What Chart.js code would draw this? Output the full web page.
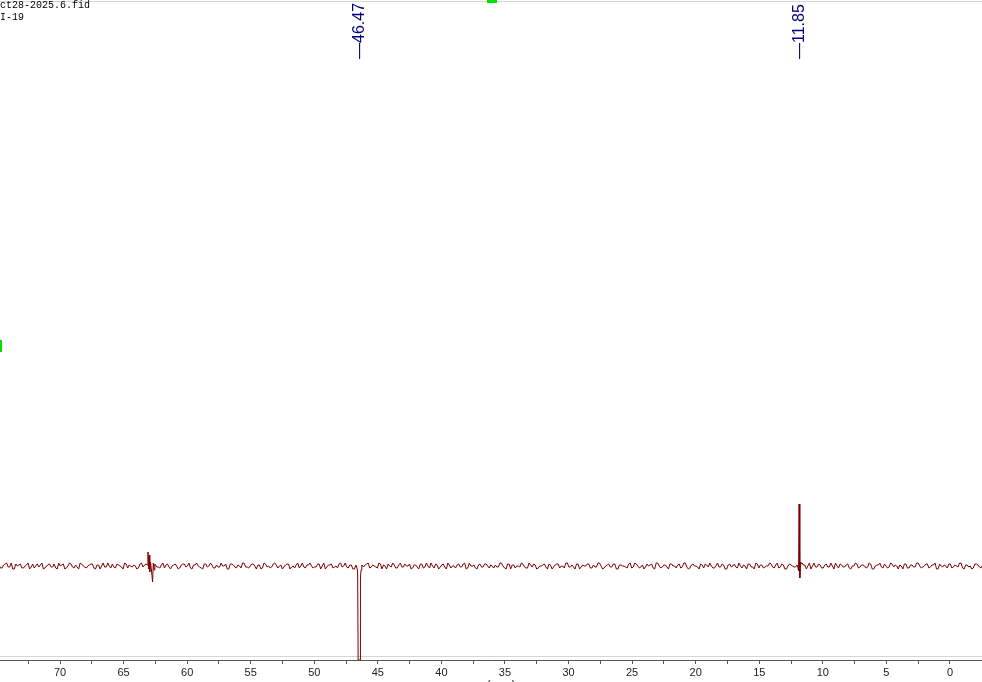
<!DOCTYPE html>
<html>
<head>
<meta charset="utf-8">
<script src="https://cdn.jsdelivr.net/npm/chart.js@4/dist/chart.umd.min.js"></script>
<style>
html, body { margin: 0; padding: 0; background: #fff; overflow: hidden; }
</style>
</head>
<body>
<canvas id="spec" width="982" height="682"></canvas>
<script>
// header lines of the spectrum window
const fileName = 'Oct28-2025.6.fid';
const sampleName = 'I-19';

// chemical shift axis (ppm), reversed like NMR
const shiftMin = -2.52;
const shiftMax = 74.72;
const tickValues = [0, 2.5, 5, 7.5, 10, 12.5, 15, 17.5, 20, 22.5, 25, 27.5, 30, 32.5, 35, 37.5,
  40, 42.5, 45, 47.5, 50, 52.5, 55, 57.5, 60, 62.5, 65, 67.5, 70, 72.5];

// picked peaks
const peakLabels = [46.47, 11.85];

// baseline noise, one value every noiseStep ppm from noiseStart
// (second array sits half a step further along)
const noiseStart = 74.8;
const noiseStep = 0.241;
const baselineNoise = [
  1,-2,2,-1,3,-3,0,2,-2,1,-3,2,0,-1,3,-2,1,-1,2,-3,
  0,2,-2,3,-1,1,-3,2,-1,0,2,-2,1,-3,3,-1,0,2,-2,1,
  -1,3,-2,0,1,-3,2,-1,2,-2,0,3,-1,1,-2,2,-3,1,0,-2,
  2,-1,3,-3,1,0,-2,2,-1,3,-2,1,-1,0,2,-3,2,-1,1,-2,
  3,-1,0,2,-3,1,-2,2,0,-1,3,-2,1,-1,2,-3,0,1,-2,3,
  -2,1,0,-1,2,-3,3,-1,1,-2,0,2,-1,3,-2,1,-3,2,0,-1,
  2,-2,1,-1,3,-3,0,2,-1,1,-2,3,-1,0,2,-2,1,-3,2,-1,
  0,3,-2,1,-1,2,-3,1,0,-2,2,-1,3,-2,0,1,-3,2,-1,2,
  -2,0,1,-1,3,-2,2,-3,1,0,-1,2,-2,3,-1,1,-2,0,2,-3,
  1,-1,2,-2,0,3,-1,1,-3,2,-1,0,2,-2,1,-1,3,-3,0,2,
  -1,2,-3,1,0,-2,3,-1,2,-2,1,-1,0,2,-3,3,-2,1,-1,2,
  0,-2,2,-1,3,-3,1,0,-1,2,-2,1,3,-2,0,-1,2,-3,1,-1,
  2,-2,0,1,-3,2,-1,3,-2,1,-1,0,2,-2,3,-1,1,-3,2,0,
  -1,2,-2,1,0,-3,3,-1,1,-2,2,-1,0,3,-2,1,-1,2,-3,0,
  2,-1,1,-2,3,-3,0,1,-1,2,-2,3,-1,0,1,-3,2,-2,1,-1,
  3,-2,0,2,-1,1,-3,2,-1,0,2,-2,1,-1,3,-3,1,0,-2,2,
  -1,1,-2
];
const baselineNoiseMid = [
  -2,1,3,-1,-3,2,1,-2,0,3,-1,-2,2,1,-3,0,2,-1,-2,3,
  1,-3,0,2,-2,-1,3,0,-2,1,2,-3,1,0,-1,3,-2,-1,2,0,
  -3,2,1,-1,0,-2,3,1,-3,2,0,-1,-2,3,1,-1,0,2,-3,1,
  2,0,-2,1,3,-1,-3,2,0,1,-2,-1,3,0,-3,2,1,-2,0,3,
  -1,-2,2,0,1,-3,3,-1,-2,2,1,0,-3,1,2,-1,-2,3,0,-1,
  1,3,-2,-1,2,0,-3,1,2,-1,-2,3,0,-1,1,-3,2,0,-2,1,
  3,-1,0,-2,2,1,-3,0,3,-2,1,-1,2,0,-3,1,-1,2,-2,3,
  -2,0,2,-3,1,-1,3,-2,0,1,-1,2,-3,3,0,-2,1,-1,2,0,
  1,-2,-1,3,0,-3,2,1,-2,0,3,-1,-2,1,2,-3,0,1,-1,2,
  -3,1,2,0,-2,3,-1,-1,2,-3,1,0,2,-2,-1,3,0,-2,1,-1,
  2,-3,1,0,-1,2,-2,3,0,-1,-3,2,1,-2,3,0,-1,1,-3,2,
  0,1,-2,3,-1,-2,2,0,-3,1,2,-1,0,-2,3,-1,1,-3,2,0,
  -1,3,-2,0,2,-1,-3,2,1,-2,0,3,-1,1,-2,2,-3,0,1,-1,
  2,-2,1,-3,3,0,-1,2,-2,1,-1,3,-3,0,2,-1,1,-2,0,3,
  -2,1,0,-1,2,-3,1,3,-2,0,-1,2,1,-3,0,2,-2,1,-1,3,
  0,-1,2,-2,1,3,-3,0,1,-2,2,-1,0,3,-2,1,-1,-3,2,1,
  -2,2,0
];

// signals: [ppm, intensity]
const signalA = [[63.14, 1], [63.08, 14], [63.03, -3], [62.99, 11], [62.94, -6], [62.88, 4],
  [62.80, -5], [62.72, -16], [62.66, 3], [62.60, -4], [62.54, 2]];
const signalB = [[46.72, 1], [46.64, -2], [46.59, -6], [46.55, -94], [46.40, -94], [46.37, -12],
  [46.32, -4], [46.26, 1]];
const signalC = [[12.02, 1], [11.95, -2], [11.91, -5], [11.87, 62], [11.81, -12],
  [11.74, 4], [11.68, 2], [11.62, 3]];

const signals = [signalA, signalB, signalC];

const spectrum = [];
const addNoise = (arr, offset) => arr.forEach((v, i) => {
  const ppm = noiseStart - (i + offset) * noiseStep;
  const inPeak = signals.some(s => ppm <= s[0][0] + 0.05 && ppm >= s[s.length - 1][0] - 0.05);
  if (!inPeak) spectrum.push({ x: ppm, y: v });
});
addNoise(baselineNoise, 0);
addNoise(baselineNoiseMid, 0.5);
signals.forEach(s => s.forEach(p => spectrum.push({ x: p[0], y: p[1] })));
spectrum.sort((a, b) => b.x - a.x);

const decorations = {
  id: 'decorations',
  beforeDatasetsDraw(chart) {
    const ctx = chart.ctx;
    ctx.save();
    ctx.strokeStyle = '#d4d4d4';
    ctx.lineWidth = 1;
    ctx.beginPath();
    ctx.moveTo(0, 1.5); ctx.lineTo(982, 1.5);
    ctx.moveTo(0, 656.5); ctx.lineTo(982, 656.5);
    ctx.stroke();
    ctx.restore();
  },
  afterDraw(chart) {
    const ctx = chart.ctx;
    const xs = chart.scales.x;
    ctx.save();
    ctx.fillStyle = '#000';
    ctx.font = '10px "Liberation Mono"';
    ctx.textAlign = 'left';
    ctx.textBaseline = 'alphabetic';
    ctx.fillText(fileName, -6, 8);
    ctx.fillText(sampleName, 0, 20);

    ctx.fillStyle = '#00007f';
    ctx.font = '16px "Liberation Sans"';
    peakLabels.forEach(p => {
      const px = xs.getPixelForValue(p);
      ctx.save();
      ctx.translate(px, 59);
      ctx.rotate(-Math.PI / 2);
      ctx.textAlign = 'left';
      ctx.textBaseline = 'middle';
      ctx.fillText('\u2014' + p.toFixed(2), 0, 0);
      ctx.restore();
    });

    ctx.fillStyle = '#00e000';
    ctx.fillRect(487, 0, 10, 3);
    ctx.fillRect(0, 340, 2, 12);

    ctx.fillStyle = '#222';
    ctx.font = '11px "Liberation Sans"';
    ctx.textAlign = 'center';
    ctx.textBaseline = 'top';
    ctx.fillText('(ppm)', 501, 679);
    ctx.restore();
  }
};

const ctx = document.getElementById('spec').getContext('2d');
const chart = new Chart(ctx, {
  type: 'scatter',
  data: {
    datasets: [{
      data: spectrum,
      showLine: true,
      borderColor: '#7a0000',
      borderWidth: 1,
      pointRadius: 0,
      tension: 0
    }]
  },
  options: {
    responsive: false,
    animation: false,
    devicePixelRatio: 1,
    layout: { padding: 0 },
    plugins: { legend: { display: false }, tooltip: { enabled: false } },
    scales: {
      x: {
        type: 'linear',
        reverse: true,
        min: shiftMin,
        max: shiftMax,
        afterBuildTicks: scale => { scale.ticks = tickValues.map(v => ({ value: v })); },
        afterFit: scale => { scale.height = 22; },
        grid: { drawOnChartArea: false, drawTicks: true, tickLength: 4, color: '#555' },
        border: { display: true, color: '#555', width: 1 },
        ticks: {
          autoSkip: false,
          maxRotation: 0,
          padding: 2,
          color: '#222',
          font: { family: 'Liberation Sans', size: 11 },
          callback: v => (v % 5 === 0 ? String(v) : '')
        }
      },
      y: {
        display: false,
        min: -94,
        max: 566
      }
    }
  },
  plugins: [decorations]
});
</script>
</body>
</html>
